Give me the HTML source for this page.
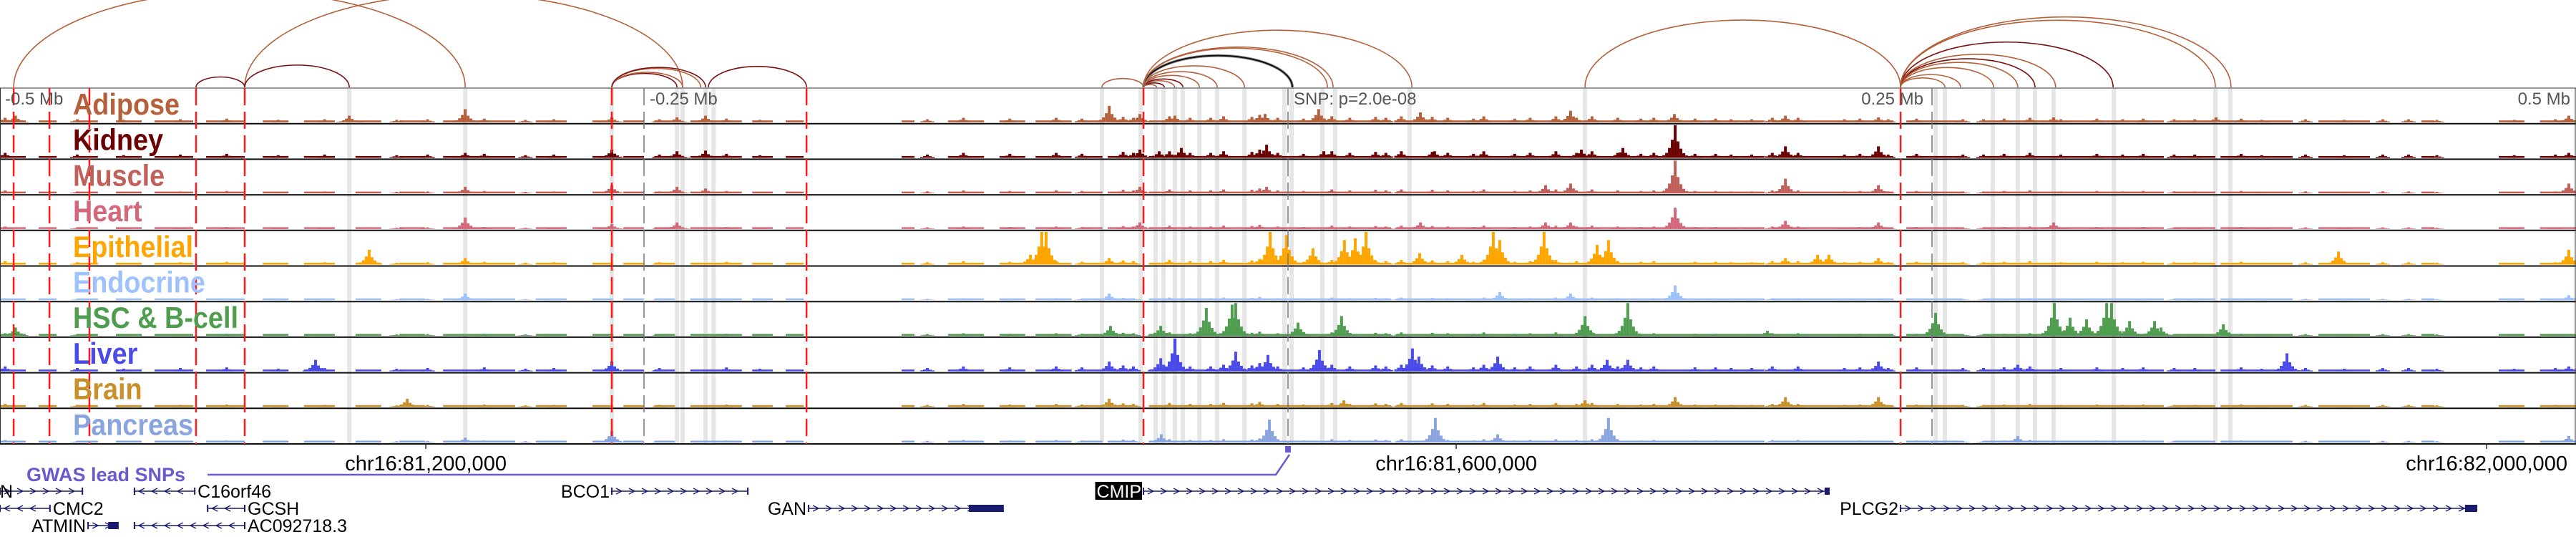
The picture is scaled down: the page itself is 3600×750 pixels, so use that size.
<!DOCTYPE html>
<html><head><meta charset="utf-8"><style>
html,body{margin:0;padding:0;background:#fff;}
svg{display:block;font-family:"Liberation Sans",Arial,sans-serif;}
</style></head><body>
<svg id="chart" width="3600" height="750" viewBox="0 0 3600 750" xmlns="http://www.w3.org/2000/svg">
<g id="bands"></g>
<g id="signals"></g>
<g id="borders"></g>
<g id="vlines"></g>
<g id="arcs"></g>
<g id="labels"></g>
<g id="scale">
<text x="7" y="146" font-size="24" fill="#555">-0.5 Mb</text>
<text x="908" y="146" font-size="24" fill="#555">-0.25 Mb</text>
<text x="1808" y="146" font-size="24" fill="#555">SNP: p=2.0e-08</text>
<text x="2688" y="146" font-size="24" fill="#555" text-anchor="end">0.25 Mb</text>
<text x="3592" y="146" font-size="24" fill="#555" text-anchor="end">0.5 Mb</text>
</g>
<g id="axis"></g>
<g id="gwas">
<text x="37" y="672" font-size="27" font-weight="bold" fill="#6a5acd">GWAS lead SNPs</text>
</g>
<g id="genes"></g>
</svg>
<script>
// ---- data ----
const trackNames = ["Adipose","Kidney","Muscle","Heart","Epithelial","Endocrine","HSC & B-cell","Liver","Brain","Pancreas"];
const trackColors = ["#b5603a","#6b0000","#c0605a","#d4687a","#ffa500","#9ec1ff","#4f9e4f","#4a4ae8","#c89028","#8aa4e0"];
// peaks: [kb offset from lead SNP, relative height]
const peaksAdipose = [[-494,0.2],[-364.4,0.2],[-319.4,0.4],[-262.5,0.15],[-237.2,0.15],[-226.1,0.2],[-69.4,0.5],[-57.5,0.25],[-43.9,0.2],[-8.9,0.25],[11.9,0.4],[51.4,0.3],[109.7,0.35],[150,0.25],[193.1,0.2],[229.2,0.15],[297.2,0.15],[360.3,0.15],[497.2,0.2]];
const peaksKidney = [[-262.5,0.25],[-319.4,0.15],[-237.2,0.2],[-226.1,0.22],[-57.5,0.25],[-50,0.2],[-41.4,0.3],[-8.3,0.4],[13.9,0.2],[56.9,0.2],[113.9,0.25],[130,0.3],[150.3,1.0],[193.1,0.35],[229.2,0.35],[497.2,0.15]];
const peaksMuscle = [[-262.5,0.25],[-319.4,0.2],[-237.2,0.2],[-226.1,0.15],[-57.5,0.2],[-8.3,0.2],[100,0.25],[109.7,0.3],[150.3,1.0],[193.1,0.45],[229.2,0.25],[497.2,0.3]];
const peaksHeart = [[-319.4,0.35],[-262.5,0.15],[-237.2,0.2],[-57.5,0.2],[51.4,0.2],[100,0.2],[109.7,0.2],[150.3,0.65],[193.1,0.25],[229.2,0.2],[297.2,0.2]];
const peaksEpithelial = [[-356.7,0.45],[-319.4,0.2],[-100,0.3],[-95.6,1.0],[-93.9,1.0],[-69.4,0.2],[-6.9,1.0],[-0.6,0.9],[9.7,0.5],[21.9,0.75],[26.1,0.8],[30.3,1.0],[51.1,0.35],[67.5,0.3],[79.7,1.0],[82.2,0.75],[99.4,1.0],[120,0.6],[124.4,0.75],[193.1,0.2],[205.6,0.3],[210,0.3],[229.2,0.2],[407.8,0.4],[497.2,0.45]];
const peaksEndocrine = [[-319.4,0.2],[-69.4,0.2],[82.2,0.25],[109.7,0.2],[150.3,0.45],[497.2,0.15]];
const peaksHSC = [[-494,0.25],[-68.9,0.3],[-49.4,0.3],[-31.7,0.85],[-21.7,0.95],[-20.3,1.0],[3.9,0.4],[20.8,0.6],[115.3,0.6],[131.9,1.0],[186.1,0.15],[251.4,0.7],[297.5,1.0],[303.6,0.55],[310,0.5],[317.8,1.0],[319.7,1.0],[326.7,0.45],[336.4,0.45],[338.9,0.25],[363.1,0.35]];
const peaksLiver = [[-377.5,0.35],[-262.5,0.3],[-69.4,0.3],[-49.4,0.4],[-43.9,1.0],[-20.3,0.6],[-7.8,0.5],[12.2,0.65],[48.3,0.7],[50.8,0.45],[81.4,0.45],[123.9,0.35],[131.9,0.35],[229.2,0.3],[283.3,0.2],[387.8,0.55],[497.2,0.15]];
const peaksBrain = [[-341.9,0.25],[-69.4,0.25],[21.7,0.2],[115.3,0.2],[150.3,0.3],[193.1,0.3],[229.2,0.3]];
const peaksPancreas = [[-262.5,0.35],[-319.4,0.15],[-49.2,0.25],[-7.2,0.7],[57.2,0.75],[81.4,0.25],[124.4,0.75],[283.3,0.2],[497.2,0.2]];
const trackPeaks = [peaksAdipose,peaksKidney,peaksMuscle,peaksHeart,peaksEpithelial,peaksEndocrine,peaksHSC,peaksLiver,peaksBrain,peaksPancreas];
// shared minor accessible sites [kb, relative height], scaled per track
const minorSites = [[-498,0.15],[-470,0.1],[-452,0.08],[-430,0.1],[-412,0.12],[-392,0.08],[-374,0.1],[-346,0.08],[-334,0.1],[-312,0.12],[-296,0.08],[-285,0.1],[-244,0.1],[-218,0.12],[-205,0.08],[-140,0.1],[-126,0.15],[-108,0.12],[-90,0.15],[-80,0.12],[-64,0.18],[-60,0.15],[-46,0.2],[-38,0.15],[-30,0.15],[-25,0.2],[-14,0.18],[-11,0.25],[-4,0.15],[6,0.12],[17,0.2],[24,0.15],[34,0.18],[38,0.15],[44,0.2],[56,0.18],[62,0.15],[72,0.12],[76,0.2],[88,0.12],[94,0.15],[104,0.2],[112,0.15],[118,0.2],[128,0.15],[137,0.12],[142,0.15],[158,0.12],[166,0.12],[172,0.1],[180,0.1],[188,0.15],[198,0.15],[216,0.1],[222,0.12],[233,0.1],[244,0.12],[262,0.1],[270,0.1],[278,0.12],[288,0.15],[300,0.1],[314,0.12],[324,0.1],[332,0.12],[344,0.1],[352,0.1],[370,0.12],[378,0.08],[395,0.1],[410,0.08],[425,0.1],[435,0.1],[446,0.08],[476,0.08],[492,0.1]];
const minorScale = [0.9,1.0,0.6,0.5,0.7,0.4,0.5,1.0,0.6,0.5];
// intervals with low background signal (kb)
const bgIntervals = [[-500,-490],[-485,-478],[-470,-462],[-455,-445],[-440,-425],[-420,-405],[-398,-388],[-382,-370],[-362,-352],[-345,-335],[-328,-300],[-292,-280],[-270,-262],[-258,-250],[-246,-238],[-232,-212],[-208,-200],[-195,-188],[-150,-145],[-132,-118],[-112,-102],[-98,-84],[-80,-72],[-70,-60],[-54,40],[42,185],[188,235],[240,262],[270,340],[344,360],[362,390],[400,420],[440,445],[470,480],[486,500]];
// highlighted regions (kb)
const bandKb = [-364.4,-319.4,-262.5,-237.2,-235,-226.1,-223,-72.2,-57.2,-51.4,-48.3,-43.9,-40.8,-34.4,-27.5,-16.9,-1.4,1.4,13.3,18.3,47.2,115.3,251.4,255,273.6,283.3,290,297.2,320.6,360,365.8];
const redLineKb = [-494.7,-480.8,-465.3,-423.9,-405,-262.5,-186.9,-56.1,237.8];
const greyLineKb = [-250,0,250];
// arcs: [start kb, end kb, style index]
const arcPairs = [[-494.7,-319.4,0],[-405,-235,0],[-423.9,-405,1],[-405,-364.4,1],[-262.5,-237.2,1],[-262.5,-235,0],[-262.5,-228,0],[-262.5,-226.1,1],[-225,-186.9,1],[-72.2,-56.1,0],[-56.1,-51,0],[-56.1,-48,1],[-56.1,-44,0],[-56.1,-40.8,1],[-56.1,-34.4,0],[-56.1,-27.5,0],[-56.1,-16.9,0],[-56.1,1.7,3],[-56.1,1.7,2],[-56.1,15.3,0],[-56.1,17.5,0],[-56.1,48.1,0],[115.3,237.8,0],[237.8,255,0],[237.8,261.1,0],[237.8,273.9,0],[237.8,283.3,0],[237.8,290,1],[237.8,298,0],[237.8,320.3,1],[237.8,360,0],[237.8,366.1,0]];
const arcColors = ["#b5603a","#7a1010","#111111","#999999"];
const arcWidths = [1.6,1.6,2,4];
const axisTicks = [-334.7,65.3,465.3];
const axisLabels = ["chr16:81,200,000","chr16:81,600,000","chr16:82,000,000"];
const snpKb = 0;
// genes
const geneNames = ["N","C16orf46","CMC2","GCSH","ATMIN","AC092718.3","BCO1","GAN","CMIP","PLCG2"];
const geneStart = [-500,-447.8,-500,-419.4,-465.8,-447.8,-262.5,-186.1,-56.1,237.8];
const geneEnd = [-468,-424.4,-480.6,-405,-454.2,-405,-209.7,-110.6,210,461.4];
const geneStrand = [1,-1,-1,-1,1,-1,1,1,1,1];
const geneRow = [0,0,1,1,2,2,0,1,0,1];
const geneBlock = [null,null,null,null,-458,null,null,-123.9,208.3,456.9];

// ---- layout ----
const NS="http://www.w3.org/2000/svg";
const X = kb => 1800 + kb*3.6;
const T0 = 123, TH = 49.7, BOT = T0+TH*10;
function mk(tag, attrs, parent){const e=document.createElementNS(NS,tag);for(const k in attrs)e.setAttribute(k,attrs[k]);parent.appendChild(e);return e;}

const gB=document.getElementById('bands');
bandKb.forEach(kb=>{
  const r=mk('rect',{x:X(kb)-3,y:T0,width:6,height:BOT-T0,fill:'#e6e6e6'},gB);
  
  
});

const shape=[[0,1],[-4,0.55],[4,0.5],[-8,0.3],[8,0.28],[-12,0.15],[12,0.14],[-16,0.08],[16,0.07]];
const gS=document.getElementById('signals');
trackNames.forEach((name,i)=>{
  const base=T0+TH*(i+1)-2, maxH=TH-4;
  const g=mk('g',{fill:trackColors[i]},gS);
  
  
  bgIntervals.forEach(([a,b])=>{
    const r=mk('rect',{x:X(a),y:base-2.5,width:X(b)-X(a),height:2.5},g);
    
    
  });
  minorSites.forEach(([kb,h])=>{
    const x=X(kb), H=h*maxH*minorScale[i];
    shape.slice(0,5).forEach(([dx,f])=>{
      const r=mk('rect',{x:x+dx-2,y:base-H*f,width:4,height:H*f},g);
      
      
    });
  });
  trackPeaks[i].forEach(([kb,h])=>{
    const x=X(kb), H=h*maxH;
    shape.forEach(([dx,f])=>{
      const r=mk('rect',{x:x+dx-2,y:base-H*f,width:4,height:H*f},g);
      
      
    });
  });
});

const gBo=document.getElementById('borders');
for(let i=0;i<=10;i++){
  const l=mk('line',{x1:0,x2:3600,y1:T0+TH*i,y2:T0+TH*i,stroke:i===0?'#777':'#111','stroke-width':i===0?1.5:2},gBo);
  
  
}
mk('line',{x1:0.5,x2:0.5,y1:T0,y2:BOT,stroke:'#333','stroke-width':1},gBo);
mk('line',{x1:3599,x2:3599,y1:T0,y2:BOT,stroke:'#333','stroke-width':1},gBo);

const gV=document.getElementById('vlines');
redLineKb.forEach(kb=>{
  const l=mk('line',{x1:X(kb),x2:X(kb),y1:T0,y2:BOT,stroke:'#ff1a1a','stroke-width':2.5,'stroke-dasharray':'24 9'},gV);
  
  
});
greyLineKb.forEach(kb=>{
  const l=mk('line',{x1:X(kb),x2:X(kb),y1:T0,y2:BOT,stroke:'#777','stroke-width':1.5,'stroke-dasharray':'24 9'},gV);
  
  
});

const gA=document.getElementById('arcs');
arcPairs.forEach(([a,b,s])=>{
  const x1=X(a),x2=X(b),rx=(x2-x1)/2,ry=0.213*(x2-x1);
  const p=mk('path',{d:`M${x1},${T0-1} A${rx},${ry} 0 0 1 ${x2},${T0-1}`,fill:'none',stroke:arcColors[s],'stroke-width':arcWidths[s]},gA);
  
  
});

const gL=document.getElementById('labels');
trackNames.forEach((name,i)=>{
  const t=mk('text',{x:0,y:0,'font-size':42,'font-weight':'bold',fill:trackColors[i],transform:`translate(102,${T0+TH*i+37}) scale(0.9,1)`},gL);
  t.textContent=name;
  
  
});

const gX=document.getElementById('axis');
axisTicks.forEach((kb,i)=>{
  const l=mk('line',{x1:X(kb),x2:X(kb),y1:BOT,y2:BOT+7,stroke:'#333','stroke-width':1.5},gX);
  
  
  const t=mk('text',{x:X(kb),y:657,'font-size':29,'text-anchor':'middle',fill:'#000'},gX);
  t.textContent=axisLabels[i];
  
  
});

const gG=document.getElementById('gwas');
const sx=X(snpKb);
const gl=mk('polyline',{points:`290,663 ${sx-17},663 ${sx+2},635`,fill:'none',stroke:'#6a5acd','stroke-width':2.5},gG);


const sr=mk('rect',{x:sx-4,y:623,width:8,height:9,fill:'#6a5acd'},gG);



const gN=document.getElementById('genes');
const rowY=[686,710,734];
geneNames.forEach((name,i)=>{
  const y=rowY[geneRow[i]], x1=X(geneStart[i]), x2=X(geneEnd[i]), col='#1a1a6e';
  const g=mk('g',{},gN);
  
  
  mk('line',{x1:x1,x2:x2,y1:y,y2:y,stroke:col,'stroke-width':1.5},g);
  mk('line',{x1:x1,x2:x1,y1:y-5,y2:y+5,stroke:col,'stroke-width':2},g);
  mk('line',{x1:x2,x2:x2,y1:y-5,y2:y+5,stroke:col,'stroke-width':2},g);
  for(let cx=x1+10;cx<x2-6;cx+=18){
    const d=geneStrand[i]>0?`M${cx-4},${y-4} L${cx+4},${y} L${cx-4},${y+4}`:`M${cx+4},${y-4} L${cx-4},${y} L${cx+4},${y+4}`;
    mk('path',{d:d,fill:'none',stroke:col,'stroke-width':1.3},g);
  }
  if(geneBlock[i]!==null){
    mk('rect',{x:X(geneBlock[i]),y:y-5,width:x2-X(geneBlock[i]),height:10,fill:col},g);
  }
  const plus=geneStrand[i]>0;
  const fs=25;
  const t=mk('text',{x:plus?x1-3:x2+4,y:y+9,'font-size':fs,'text-anchor':plus?'end':'start',fill:name==="CMIP"?'#fff':'#000'},g);
  if(name==="N"){t.setAttribute('x',0);t.setAttribute('text-anchor','start');}
  t.textContent=name;
  if(name==="CMIP"){
    const bb=t.getBBox();
    const r=mk('rect',{x:bb.x-2,y:y-13,width:bb.width+3,height:25,fill:'#000'},g);
    g.insertBefore(r,t);
  }
});
</script>
</body></html>
